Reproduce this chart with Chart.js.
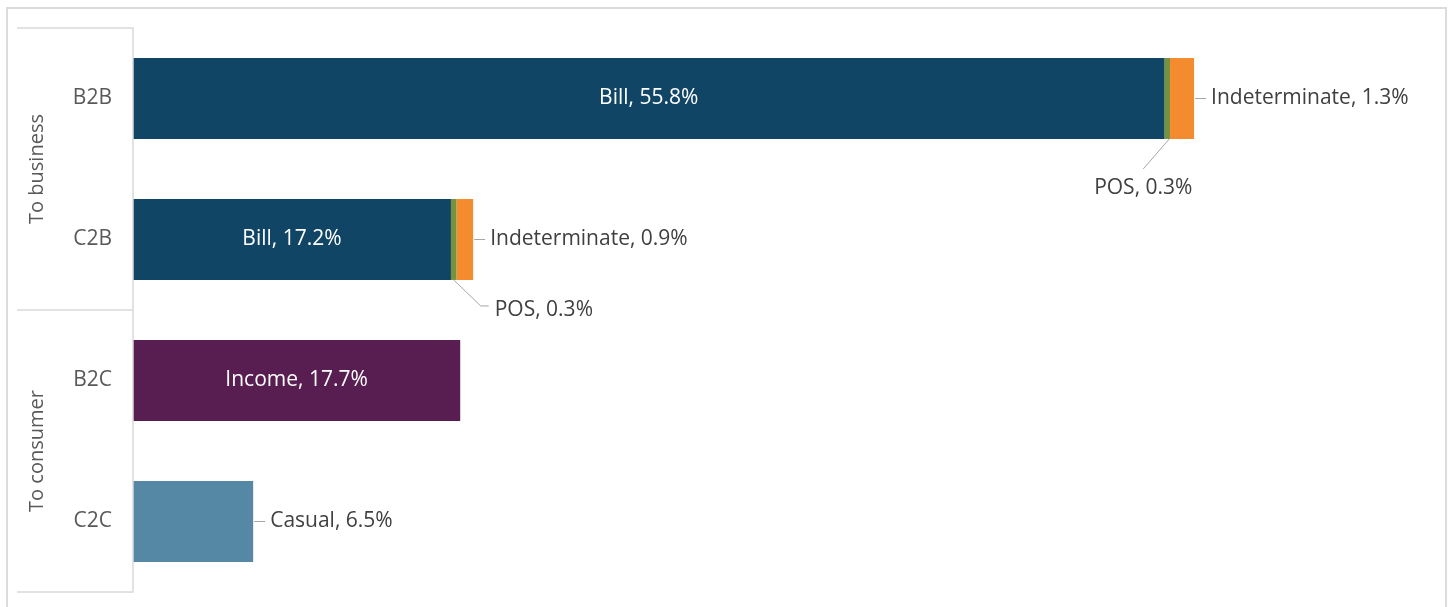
<!DOCTYPE html>
<html>
<head>
<meta charset="utf-8">
<script src="https://cdn.jsdelivr.net/npm/chart.js@4.4.1/dist/chart.umd.min.js"></script>
<style>
  html, body { margin: 0; padding: 0; background: #fff; }
  #wrap { position: relative; width: 1448px; height: 607px; }
  canvas { display: block; }
</style>
</head>
<body>
<div id="wrap"><canvas id="myChart" width="1448" height="607"></canvas></div>
<script>
const categories = ["B2B", "C2B", "B2C", "C2C"];
const groups = ["To business", "To consumer"];
const bill = [55.8, 17.2, null, null];
const pos = [0.3, 0.3, null, null];
const indeterminate = [1.3, 0.9, null, null];
const income = [null, null, 17.7, null];
const casual = [null, null, null, 6.5];

const FONT = "'Open Sans', 'Noto Sans', sans-serif";
const TEXT = "#404040";

// where each data label goes: inside the bar, right of it, or below with a leader
const labelPlace = {
  Bill: "inside",
  Income: "inside",
  Indeterminate: "right",
  Casual: "right",
  POS: "below"
};

// frame, group labels and data labels
const decor = {
  id: "decor",
  afterDatasetsDraw(chart) {
    const ctx = chart.ctx;
    const area = chart.chartArea;
    const yScale = chart.scales.y;
    ctx.save();

    // outer frame
    ctx.strokeStyle = "#dcdcdc";
    ctx.lineWidth = 2;
    ctx.beginPath();
    ctx.moveTo(7, 607);
    ctx.lineTo(7, 8);
    ctx.lineTo(1446, 8);
    ctx.lineTo(1446, 607);
    ctx.stroke();

    // axis box with group separators
    ctx.strokeStyle = "#d9d9d9";
    ctx.lineWidth = 1.5;
    const left = 17;
    const mid = (yScale.getPixelForValue(1) + yScale.getPixelForValue(2)) / 2;
    ctx.beginPath();
    ctx.moveTo(left, area.top);
    ctx.lineTo(area.left, area.top);
    ctx.lineTo(area.left, area.bottom);
    ctx.lineTo(left, area.bottom);
    ctx.moveTo(left, mid);
    ctx.lineTo(area.left, mid);
    ctx.stroke();

    // rotated group labels
    ctx.fillStyle = "#595959";
    ctx.font = "20px " + FONT;
    ctx.textAlign = "center";
    ctx.textBaseline = "middle";
    const spans = [[area.top, mid], [mid, area.bottom]];
    groups.forEach((g, i) => {
      ctx.save();
      ctx.translate(37, (spans[i][0] + spans[i][1]) / 2);
      ctx.rotate(-Math.PI / 2);
      ctx.fillText(g, 0, 0);
      ctx.restore();
    });

    // data labels
    ctx.font = "21px " + FONT;
    ctx.lineWidth = 1;
    ctx.strokeStyle = "#a6a6a6";
    chart.data.datasets.forEach((ds, di) => {
      const meta = chart.getDatasetMeta(di);
      meta.data.forEach((bar, i) => {
        const v = ds.data[i];
        if (v === null || v === undefined) return;
        const txt = ds.label + ", " + v.toFixed(1) + "%";
        const place = labelPlace[ds.label];
        const x0 = bar.base, x1 = bar.x, yc = bar.y, h = bar.height;
        if (place === "inside") {
          ctx.fillStyle = "#ffffff";
          ctx.textAlign = "center";
          ctx.fillText(txt, (x0 + x1) / 2, yc);
        } else if (place === "right") {
          ctx.beginPath();
          ctx.moveTo(x1 + 1, yc);
          ctx.lineTo(x1 + 12, yc);
          ctx.stroke();
          ctx.fillStyle = TEXT;
          ctx.textAlign = "left";
          ctx.fillText(txt, x1 + 17, yc);
        } else if (place === "below") {
          const xm = (x0 + x1) / 2;
          const yb = yc + h / 2;
          ctx.fillStyle = TEXT;
          if (i === 0) {
            ctx.beginPath();
            ctx.moveTo(xm + 2, yb);
            ctx.lineTo(xm - 24, yb + 30);
            ctx.stroke();
            ctx.textAlign = "center";
            ctx.fillText(txt, xm - 24, yb + 49);
          } else {
            ctx.beginPath();
            ctx.moveTo(xm, yb);
            ctx.lineTo(xm + 27, yb + 26);
            ctx.lineTo(xm + 35, yb + 26);
            ctx.stroke();
            ctx.textAlign = "left";
            ctx.fillText(txt, xm + 41, yb + 30);
          }
        }
      });
    });
    ctx.restore();
  }
};

const ctx = document.getElementById("myChart").getContext("2d");
new Chart(ctx, {
  type: "bar",
  data: {
    labels: categories,
    datasets: [
      { label: "Bill", data: bill, backgroundColor: "#114566" },
      { label: "POS", data: pos, backgroundColor: "#76923c" },
      { label: "Indeterminate", data: indeterminate, backgroundColor: "#f58b2f" },
      { label: "Income", data: income, backgroundColor: "#581e52" },
      { label: "Casual", data: casual, backgroundColor: "#5488a4" }
    ]
  },
  options: {
    indexAxis: "y",
    responsive: false,
    animation: false,
    layout: { padding: { left: 17, top: 28, bottom: 15, right: 21 } },
    datasets: { bar: { categoryPercentage: 0.574, barPercentage: 1, borderSkipped: false } },
    plugins: {
      legend: { display: false },
      tooltip: { enabled: false }
    },
    scales: {
      x: {
        stacked: true,
        display: false,
        min: 0,
        max: 70
      },
      y: {
        stacked: true,
        grid: { display: false, drawTicks: false },
        border: { display: false },
        ticks: {
          color: "#595959",
          padding: 21,
          font: { family: FONT, size: 21 }
        },
        afterFit(scale) {
          scale.width = 116;
          scale.paddingTop = 0;
          scale.paddingBottom = 0;
        }
      }
    }
  },
  plugins: [decor]
});
</script>
</body>
</html>
